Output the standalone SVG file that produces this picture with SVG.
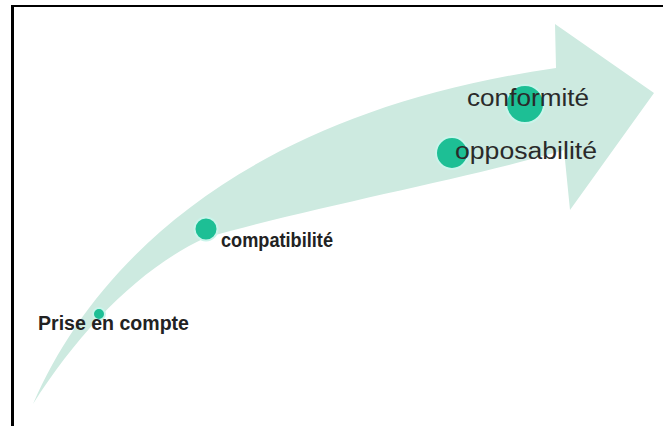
<svg xmlns="http://www.w3.org/2000/svg" width="663" height="426" viewBox="0 0 663 426">
  <style>
    .dot { fill: #1dbf95; stroke: #c9f4ea; stroke-width: 2; }
    .lbl { font-family: "Liberation Sans", Arial, sans-serif; fill: #222222; }
    .big { font-size: 23px; fill: #2a2a2a; }
    .small { font-size: 20px; font-weight: bold; }
  </style>
  <rect x="0" y="0" width="663" height="426" fill="#ffffff"/>
  <g id="frame" fill="none" stroke="#000000">
    <line x1="12.5" y1="5" x2="12.5" y2="426" stroke-width="3"/>
    <line x1="11" y1="6" x2="663" y2="6" stroke-width="2"/>
  </g>
  <g id="arrow">
    <path d="M33,404 C100,250 260,110 556,68 L555,24 L654,93 L570,210 L564,150 C470,178 320,205 205,238 C140,268 80,330 33,404 Z" fill="#cdeae0"/>
  </g>
  <g id="prise-en-compte">
    <circle class="dot" cx="99" cy="314" r="6"/>
    <text class="lbl small" x="38" y="330" textLength="151" lengthAdjust="spacingAndGlyphs">Prise en compte</text>
  </g>
  <g id="compatibilite">
    <circle class="dot" cx="206" cy="229" r="11.5"/>
    <text class="lbl small" x="221" y="247" textLength="112" lengthAdjust="spacingAndGlyphs">compatibilité</text>
  </g>
  <g id="opposabilite">
    <circle class="dot" cx="452" cy="153" r="16"/>
    <text class="lbl big" x="455" y="159" textLength="142" lengthAdjust="spacingAndGlyphs">opposabilité</text>
  </g>
  <g id="conformite">
    <circle class="dot" cx="525" cy="104" r="19"/>
    <text class="lbl big" x="467" y="106" textLength="122" lengthAdjust="spacingAndGlyphs">conformité</text>
  </g>
</svg>
